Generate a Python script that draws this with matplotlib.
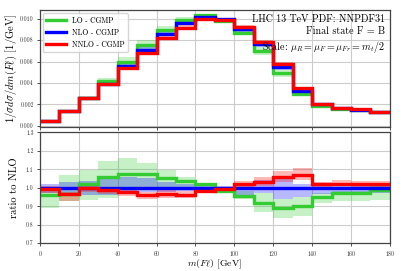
import matplotlib
matplotlib.use("Agg")
import matplotlib.pyplot as plt
import numpy as np

plt.rcParams["font.family"] = "serif"
plt.rcParams["font.serif"] = ["cmr10"]
plt.rcParams["mathtext.fontset"] = "cm"
plt.rcParams["axes.formatter.use_mathtext"] = True

# bin edges in m(F l) [GeV]
edges = np.arange(0, 190, 10)

# NLO distribution (top panel), 1/GeV
nlo = np.array([0.00047, 0.00142, 0.00256, 0.00392, 0.00554, 0.00705,
                0.00853, 0.00955, 0.01015, 0.00995, 0.00905, 0.00760,
                0.00550, 0.00330, 0.00200, 0.00167, 0.00152, 0.00127])

# ratios to NLO (bottom panel)
lo_ratio = np.array([0.958, 0.965, 1.017, 1.056, 1.074, 1.074, 1.050, 1.037,
                     1.017, 0.983, 0.956, 0.918, 0.892, 0.900, 0.951, 0.972,
                     0.972, 0.987])
nnlo_ratio = np.array([0.995, 0.963, 0.999, 0.985, 0.978, 0.958, 0.965, 0.958,
                       0.983, 0.995, 1.022, 1.031, 1.055, 1.069, 1.019, 1.022,
                       1.017, 1.019])

# scale-variation bands (ratio to NLO central)
lo_band_lo = np.array([0.888, 0.925, 0.935, 0.945, 0.985, 0.995, 0.990, 0.990,
                       0.990, 0.970, 0.940, 0.870, 0.835, 0.846, 0.915, 0.925,
                       0.925, 0.935])
lo_band_hi = np.array([1.000, 1.067, 1.097, 1.145, 1.160, 1.135, 1.094, 1.058,
                       1.026, 0.995, 0.980, 0.970, 0.940, 0.950, 0.970, 0.980,
                       0.980, 1.020])
nlo_band_lo = np.array([0.969, 0.969, 0.960, 0.960, 0.969, 0.978, 0.978, 0.982,
                        0.985, 0.985, 0.960, 0.970, 0.940, 0.950, 0.965, 0.970,
                        0.972, 0.972])
nlo_band_hi = np.array([1.022, 1.028, 1.037, 1.058, 1.058, 1.050, 1.030, 1.022,
                        1.010, 1.008, 1.013, 1.040, 1.050, 1.020, 1.020, 1.015,
                        1.015, 1.015])
nnlo_band_lo = np.array([0.970, 0.930, 0.975, 0.965, 0.955, 0.940, 0.945, 0.945,
                         0.970, 0.985, 1.005, 1.010, 1.030, 1.040, 1.005, 1.010,
                         1.005, 1.005])
nnlo_band_hi = np.array([1.010, 0.975, 1.010, 1.000, 0.995, 0.975, 0.985, 0.980,
                         0.995, 1.005, 1.035, 1.055, 1.090, 1.108, 1.030, 1.040,
                         1.035, 1.035])

labels = ["LO - CGMP", "NLO - CGMP", "NNLO - CGMP"]
colors = ["#33cc33", "#0000ff", "#ff0000"]
ratios = [lo_ratio, np.ones_like(nlo), nnlo_ratio]
bands = [(lo_band_lo, lo_band_hi), (nlo_band_lo, nlo_band_hi),
         (nnlo_band_lo, nnlo_band_hi)]

fig = plt.figure(figsize=(4.07, 2.71), dpi=100)
gs = fig.add_gridspec(2, 1, height_ratios=[117, 111], hspace=0.045,
                      left=0.098, right=0.958, top=0.963, bottom=0.103)
ax1 = fig.add_subplot(gs[0])
ax2 = fig.add_subplot(gs[1], sharex=ax1)

for lab, col, r, (blo, bhi) in zip(labels, colors, ratios, bands):
    ax1.stairs(nlo * bhi, edges, baseline=nlo * blo, fill=True,
               color=col, alpha=0.28, lw=0)
    ax2.stairs(bhi, edges, baseline=blo, fill=True, color=col, alpha=0.28, lw=0)
for lab, col, r in zip(labels, colors, ratios):
    ax1.stairs(nlo * r, edges, color=col, lw=2.4, label=lab, baseline=None)
    ax2.stairs(r, edges, color=col, lw=2.4, baseline=None)

ax1.set_xlim(0, 180)
ax1.set_ylim(-0.0001, 0.0108)
ax1.set_yticks(np.arange(0, 0.0101, 0.002))
ax1.yaxis.set_major_formatter(matplotlib.ticker.FormatStrFormatter("%.3f"))
ax2.set_ylim(0.7, 1.3)
ax2.set_yticks(np.arange(0.7, 1.31, 0.1))
ax2.yaxis.set_major_formatter(matplotlib.ticker.FormatStrFormatter("%.1f"))
ax2.set_xticks(np.arange(0, 181, 20))
plt.setp(ax1.get_xticklabels(), visible=False)

for ax in (ax1, ax2):
    ax.grid(True, color="#cccccc", lw=0.8)
    ax.set_axisbelow(True)
    ax.tick_params(labelsize=4.2, length=2.5, width=0.6, pad=2,
                   colors="#333333")
    for s in ax.spines.values():
        s.set_color("#444444")
        s.set_linewidth(0.9)

ax1.set_ylabel(r"$1/\sigma d\sigma/dm(F\ell)$ [1/GeV]", fontsize=7.6)
ax2.set_ylabel("ratio to NLO", fontsize=7.6)
ax2.set_xlabel(r"$m(F\ell)$ [GeV]", fontsize=7.0)
ax1.yaxis.set_label_coords(-0.06, 0.5)
ax2.yaxis.set_label_coords(-0.06, 0.5)
ax2.xaxis.set_label_coords(0.5, -0.13)

ax1.legend(loc="upper left", fontsize=5.5, handlelength=2.6, frameon=True,
           borderaxespad=0.4)
ax1.text(0.985, 0.96,
         "LHC 13 TeV PDF: NNPDF31\nFinal state F = B\n"
         r"Scale: $\mu_R = \mu_F = \mu_{Fr} = m_t/2$",
         transform=ax1.transAxes, ha="right", va="top", fontsize=7.2,
         linespacing=1.3)

fig.savefig("out.png", dpi=100)
